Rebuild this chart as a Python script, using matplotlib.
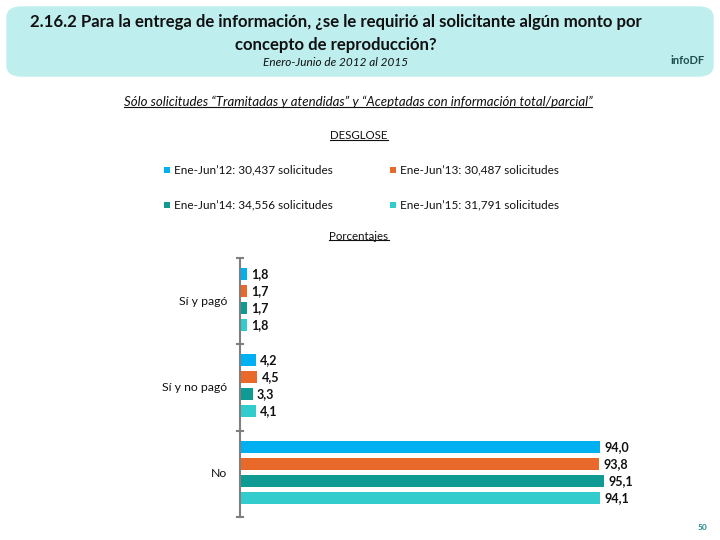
import matplotlib
matplotlib.use("Agg")
import matplotlib.pyplot as plt
from matplotlib.patches import FancyBboxPatch, Rectangle
import numpy as np

categories = ["Sí y pagó", "Sí y no pagó", "No"]
series_names = ["Ene-Jun’12: 30,437 solicitudes", "Ene-Jun’13: 30,487 solicitudes",
                "Ene-Jun’14: 34,556 solicitudes", "Ene-Jun’15: 31,791 solicitudes"]
v12 = [1.8, 4.2, 94.0]
v13 = [1.7, 4.5, 93.8]
v14 = [1.7, 3.3, 95.1]
v15 = [1.8, 4.1, 94.1]
values = [v12, v13, v14, v15]
colors = ["#00B0F0", "#E8692A", "#0F9A94", "#33CCCC"]

plt.rcParams['font.family'] = ['Lato', 'DejaVu Sans']

fig = plt.figure(figsize=(7.2, 5.4), dpi=100)
W, H = 720, 540

def fx(x): return x / W
def fy(y): return 1 - y / H

# Header box
box = FancyBboxPatch((fx(7), fy(76)), fx(706), 69 / H,
                     boxstyle="round,pad=0,rounding_size=0.02",
                     transform=fig.transFigure, facecolor="#BFEEEE",
                     edgecolor="#BFEEEE", zorder=0)
fig.patches.append(box)
fig.text(fx(336), fy(22), "2.16.2 Para la entrega de información, ¿se le requirió al solicitante algún monto por",
         ha="center", va="center", fontsize=12.1, fontweight="bold", color="#111111")
fig.text(fx(336), fy(45), "concepto de reproducción?", ha="center", va="center",
         fontsize=12.1, fontweight="bold", color="#111111")
fig.text(fx(336), fy(63), "Enero-Junio de 2012 al 2015", ha="center", va="center",
         fontsize=8.5, style="italic", color="#111111")
fig.text(fx(688), fy(60), "infoDF", ha="center", va="center", fontsize=8,
         fontweight="bold", color="#1F4E4E")

t1 = fig.text(fx(358), fy(102), "Sólo solicitudes “Tramitadas y atendidas” y “Aceptadas con información total/parcial”",
              ha="center", va="center", fontsize=9.5, style="italic", color="#111111")
t2 = fig.text(fx(359), fy(136), "DESGLOSE", ha="center", va="center", fontsize=8.3, color="#111111")
t3 = fig.text(fx(359), fy(236), "Porcentajes", ha="center", va="center", fontsize=8.3, color="#111111")
underlines = [t1, t2, t3]

# Legend
leg_pos = [(167, 170), (393, 170), (167, 205), (393, 205)]
for (x, y), name, c in zip(leg_pos, series_names, colors):
    fig.patches.append(Rectangle((fx(x - 3), fy(y + 3)), 6 / W, 6 / H,
                                 transform=fig.transFigure, facecolor=c, edgecolor="none"))
    fig.text(fx(x + 7), fy(y), name, ha="left", va="center", fontsize=8.5, color="#111111")

# Chart axes
ax = fig.add_axes([fx(240), fy(517), fx(623) - fx(240), (517 - 258) / H])
n = len(categories)
bar_h = 0.14
step = 0.197
for i, (vals, c) in enumerate(zip(values, colors)):
    ypos = np.arange(n) + (i - 1.5) * step - 0.02
    ax.barh(ypos, vals, height=bar_h, color=c)
    for y, v in zip(ypos, vals):
        ax.text(v + 1.1, y, f"{v:.1f}".replace(".", ","), ha="left", va="center",
                fontsize=9, fontweight="bold", color="#111111")
ax.set_xlim(0, 100)
ax.set_ylim(n - 0.5, -0.5)
ax.set_yticks([])
ax.set_xticks([])
for s in ["top", "right", "bottom"]:
    ax.spines[s].set_visible(False)
ax.spines["left"].set_color("#7F7F7F")
ax.spines["left"].set_linewidth(1.5)
for b in np.arange(n + 1) - 0.5:
    ax.plot([-0.8, 0.8], [b, b], color="#7F7F7F", lw=1.5, clip_on=False)
for i, cat in enumerate(categories):
    ax.text(-3.3, i, cat, ha="right", va="center", fontsize=8.8, color="#111111")

fig.text(fx(702), fy(527), "50", ha="center", va="center", fontsize=6,
         fontweight="bold", color="#1A8A8A")

fig.canvas.draw()
r = fig.canvas.get_renderer()
inv = fig.transFigure.inverted()
for t in underlines:
    bb = t.get_window_extent(renderer=r)
    (x0, y0), (x1, y1) = inv.transform([(bb.x0, bb.y0), (bb.x1, bb.y1)])
    fig.lines.append(plt.Line2D([x0, x1], [y0 + 0.002, y0 + 0.002],
                                transform=fig.transFigure, color="#111111", lw=0.8))

fig.savefig("out.png", dpi=100)
